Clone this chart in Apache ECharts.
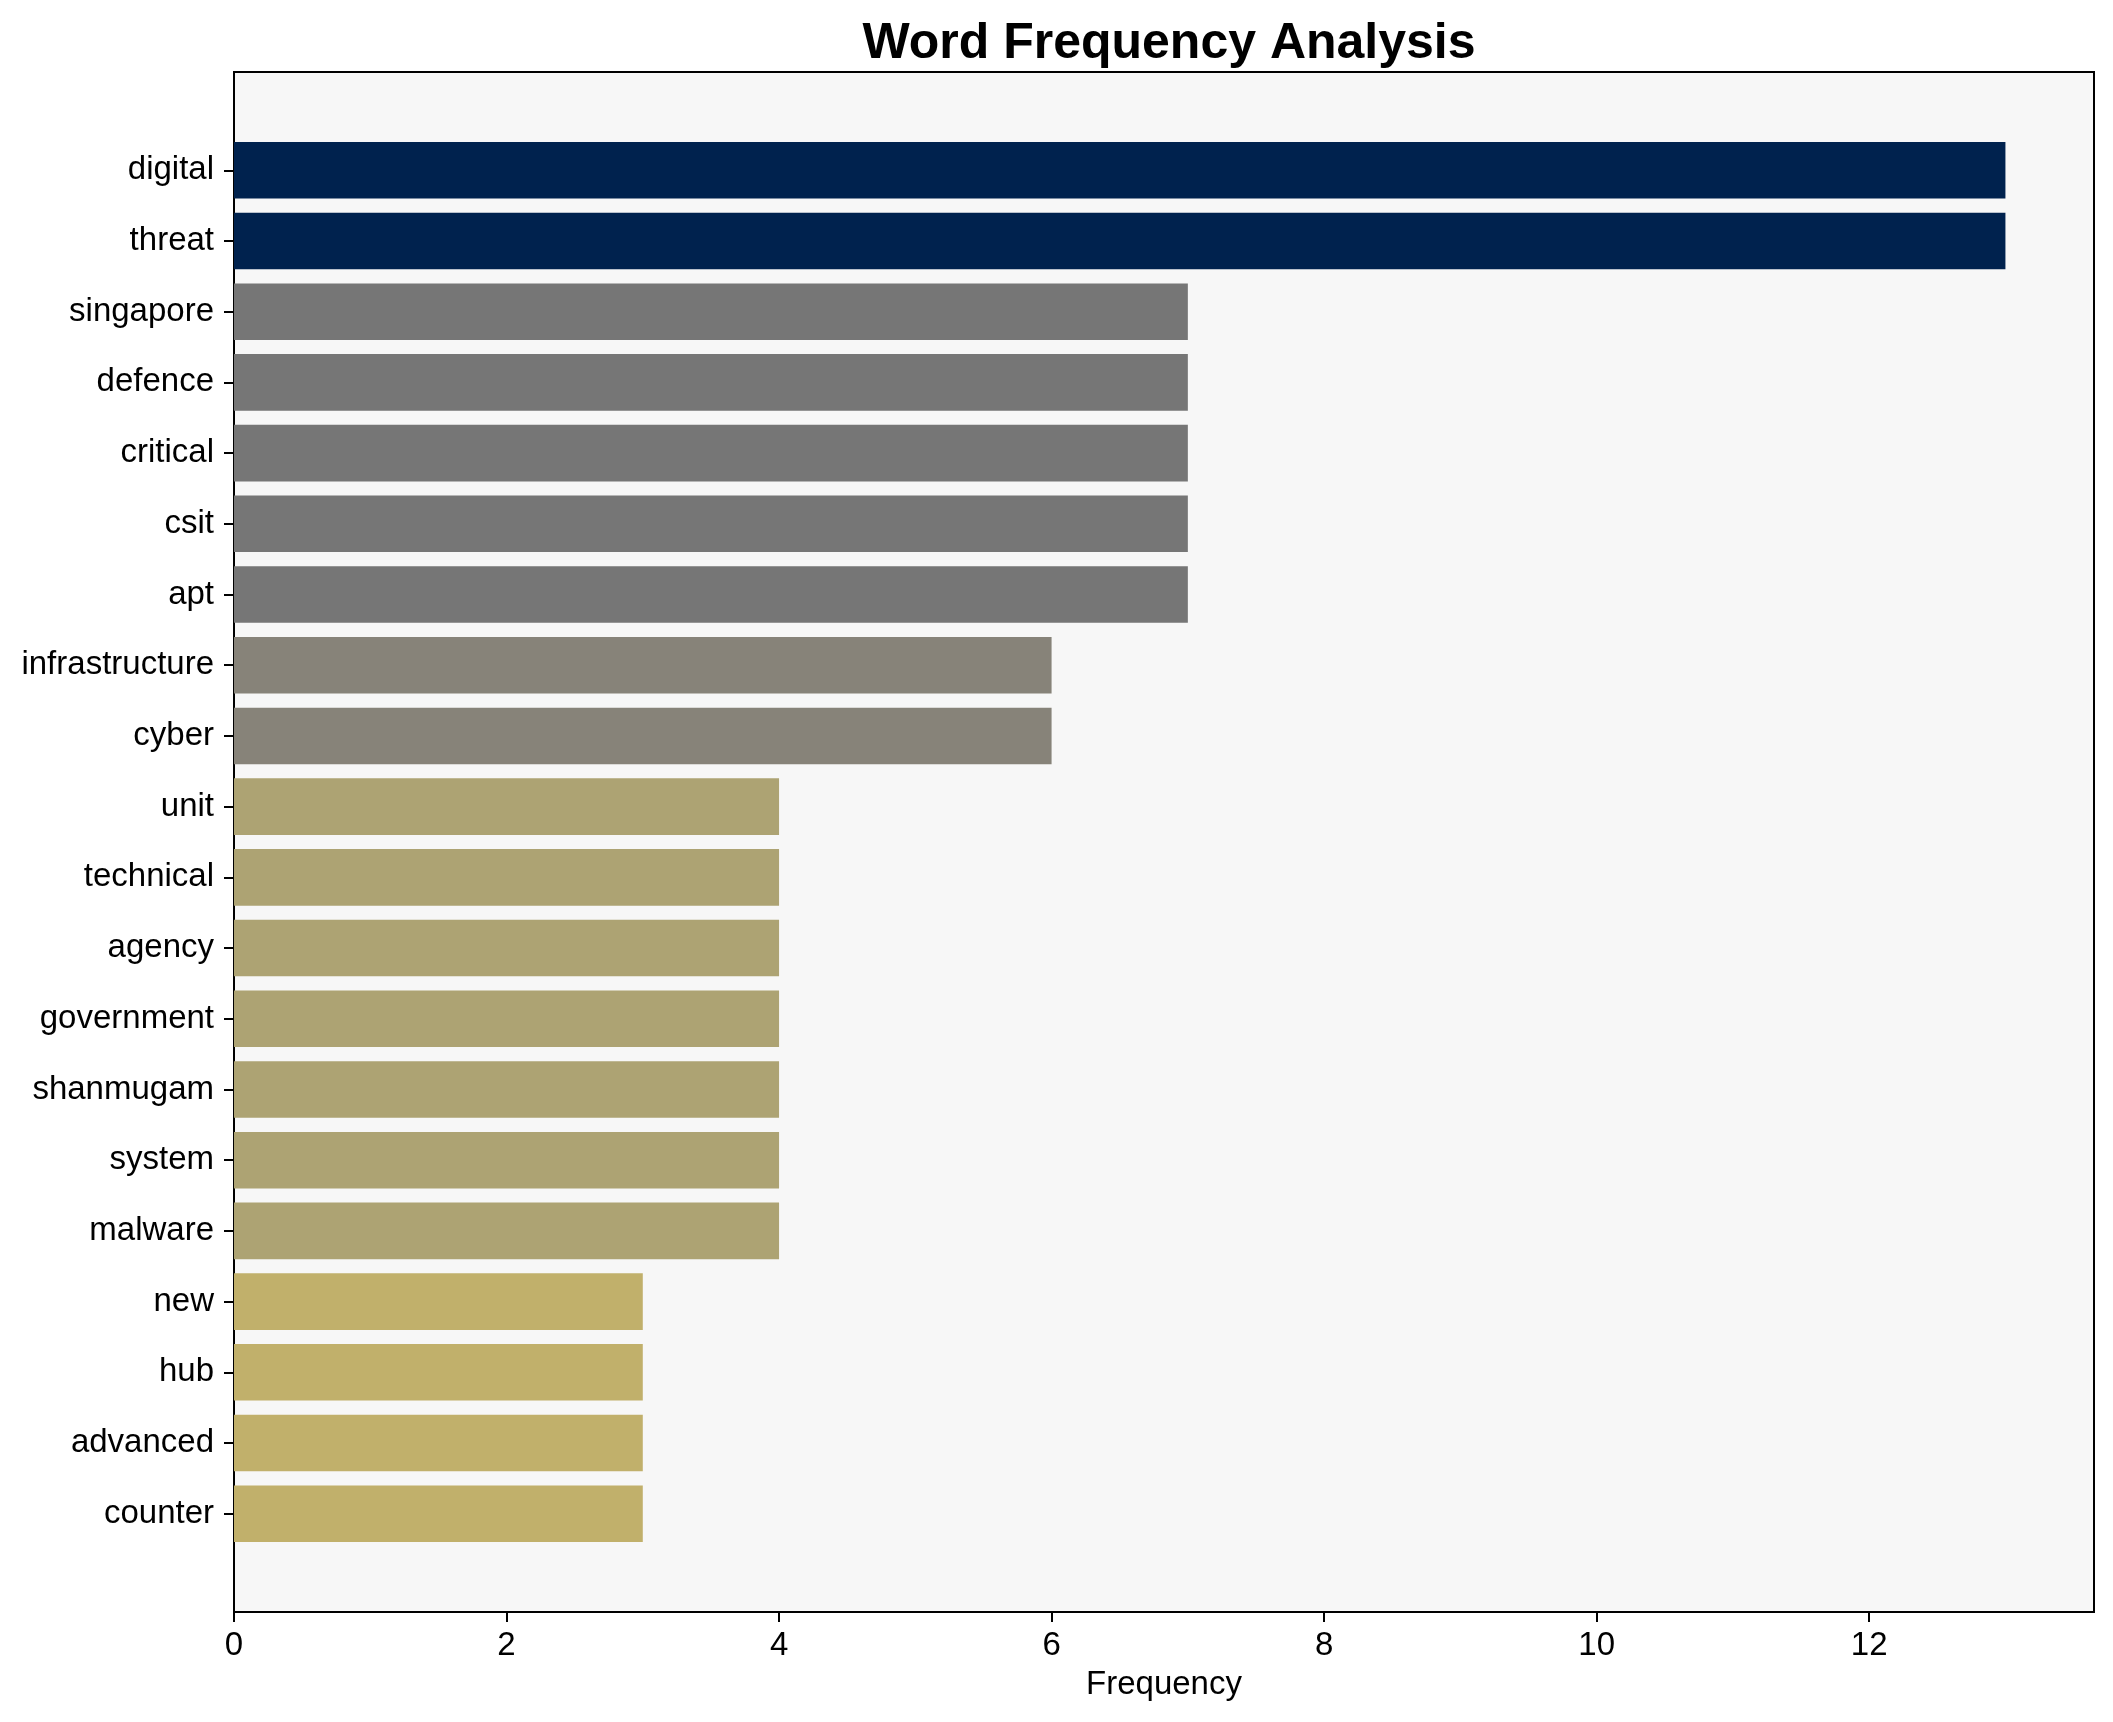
<!DOCTYPE html>
<html>
<head>
<meta charset="utf-8">
<style>
  html, body { margin: 0; padding: 0; background: #ffffff; }
  #chart { width: 2113px; height: 1722px; }
</style>
<script src="https://cdn.jsdelivr.net/npm/echarts@6/dist/echarts.min.js"></script>
</head>
<body>
<div id="chart"></div>
<script>
// ---- data ----
var categories = ["digital", "threat", "singapore", "defence", "critical", "csit", "apt",
  "infrastructure", "cyber", "unit", "technical", "agency", "government", "shanmugam",
  "system", "malware", "new", "hub", "advanced", "counter"];
var frequencies = [13, 13, 7, 7, 7, 7, 7, 6, 6, 4, 4, 4, 4, 4, 4, 4, 3, 3, 3, 3];
var xTicks = [0, 2, 4, 6, 8, 10, 12];
var titleText = "Word Frequency Analysis";
var xAxisName = "Frequency";

// ---- styling ----
var colorByValue = { 13: "#00224e", 7: "#767676", 6: "#878379", 4: "#ada373", 3: "#c1b06b" };
function colorFor(v) { return colorByValue[v] || "#777777"; }

var FONT = "Liberation Sans, Arial, Helvetica, sans-serif";
var xMax = 13 * 1.05;

var chart = echarts.init(document.getElementById('chart'), null, { renderer: 'canvas' });

chart.setOption({
  backgroundColor: '#ffffff',
  animation: false,
  title: {
    text: titleText,
    left: 1164,
    textAlign: 'center',
    top: 14,
    textStyle: { fontFamily: FONT, fontSize: 50, fontWeight: 'bold', color: '#000000' }
  },
  grid: [
    { // outer frame / axes area
      left: 234, right: 19, top: 72, bottom: 110,
      show: true, backgroundColor: '#f7f7f7', borderColor: '#000000', borderWidth: 2,
      containLabel: false
    },
    { // data area (category bands)
      left: 234, right: 19, top: 134.9, bottom: 172.9,
      show: false, containLabel: false
    }
  ],
  xAxis: [
    {
      gridIndex: 0, type: 'value', min: 0, max: xMax,
      name: xAxisName, nameLocation: 'middle', nameGap: 56,
      nameTextStyle: { fontFamily: FONT, fontSize: 33, color: '#000000' },
      axisLine: { show: true, lineStyle: { color: '#000000', width: 2 } },
      axisTick: { show: true, length: 10, customValues: xTicks, lineStyle: { color: '#000000', width: 2 } },
      axisLabel: { show: true, customValues: xTicks, margin: 17, fontFamily: FONT, fontSize: 33, color: '#000000' },
      splitLine: { show: false }
    },
    {
      gridIndex: 1, type: 'value', min: 0, max: xMax, show: false,
      splitLine: { show: false }
    }
  ],
  yAxis: [
    {
      gridIndex: 0, type: 'value', min: 0, max: 1, show: false, splitLine: { show: false }
    },
    {
      gridIndex: 1, type: 'category', data: categories, inverse: true,
      axisLine: { show: false },
      axisTick: { show: true, alignWithLabel: true, length: 10, lineStyle: { color: '#000000', width: 2 } },
      axisLabel: { show: true, margin: 20, padding: [5, 0, 0, 0], fontFamily: FONT, fontSize: 33, color: '#000000' },
      splitLine: { show: false }
    }
  ],
  series: [
    {
      type: 'bar',
      xAxisIndex: 1, yAxisIndex: 1,
      barCategoryGap: '20%',
      data: frequencies.map(function (v) {
        return { value: v, itemStyle: { color: colorFor(v) } };
      })
    }
  ]
});
</script>
</body>
</html>
